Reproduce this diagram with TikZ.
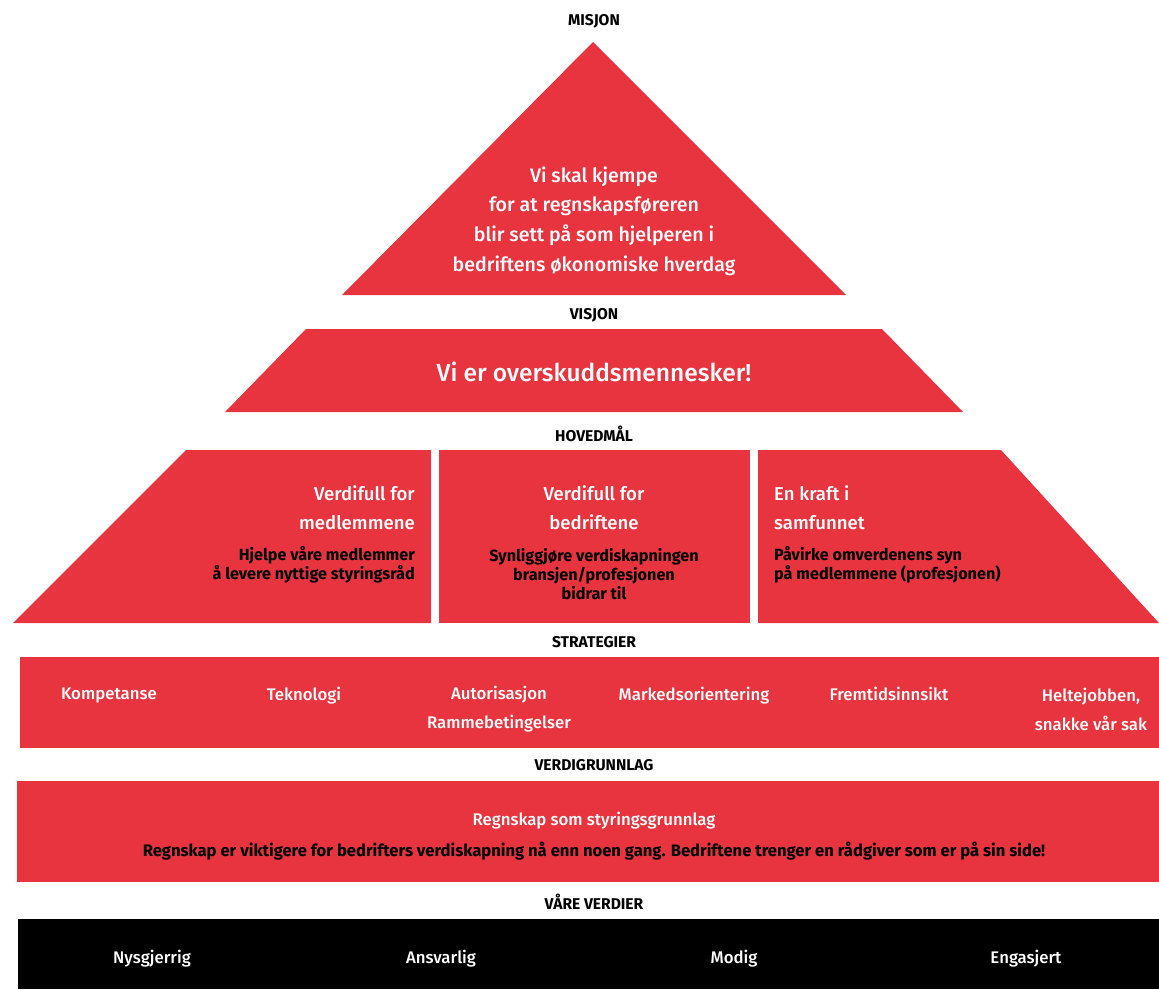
\documentclass[tikz,border=0pt]{standalone}
\usepackage{fontspec}
\setmainfont{Fira Sans}
\newfontfamily\medfont{Fira Sans Medium}
\usepackage{xcolor}
\definecolor{pyrared}{HTML}{E7343F}
\usepackage{tikz}
\usetikzlibrary{positioning}

\newcommand{\levelname}[3]{
\node (#1) [heading] at (594,#2) {#3};}
\tikzstyle{block}=[fill=pyrared, draw=none]
\tikzstyle{heading}=[inner sep=0pt, text=black, font=\bfseries\fontsize{15.6}{17}\selectfont]
\tikzstyle{whitetext}=[inner sep=0pt, text=white, font=\medfont\fontsize{17}{29}\selectfont]
\tikzstyle{goaltext}=[whitetext, font=\medfont\fontsize{18.6}{29}\selectfont]
\tikzstyle{subtext}=[inner sep=0pt, text=black, font=\bfseries\fontsize{16.2}{19}\selectfont]
\tikzstyle{strategy}=[whitetext, font=\medfont\fontsize{16.8}{29}\selectfont, align=center]

\begin{document}
\begin{tikzpicture}[x=1pt, y=-1pt]
\useasboundingbox (0,0) rectangle (1159,989);

% pyramid
\fill[block] (593,42) -- (846,295) -- (342,295) -- cycle;
\fill[block] (306,329) -- (882,329) -- (963,412) -- (225,412) -- cycle;
\fill[block] (186,450) -- (431,450) -- (431,623) -- (13,623) -- cycle;
\fill[block] (439,450) rectangle (750,623);
\fill[block] (758,450) -- (1001,450) -- (1159,623) -- (758,623) -- cycle;
\fill[block] (20,657) rectangle (1159,748);
\fill[block] (17,781) rectangle (1159,882);
\fill[black] (18,919) rectangle (1159,989);

\levelname{Misjon}{21}{MISJON}
\levelname{Visjon}{315}{VISJON}
\levelname{Hovedmaal}{434}{HOVEDMÅL}
\levelname{Strategier}{642}{STRATEGIER}
\levelname{Verdigrunnlag}{765}{VERDIGRUNNLAG}
\levelname{Verdier}{902}{VÅRE VERDIER}

\node (MisjonText) [goaltext, font=\medfont\fontsize{19.6}{29.7}\selectfont, align=center] at (594,221)
  {Vi skal kjempe\\for at regnskapsføreren\\blir sett på som hjelperen i\\bedriftens økonomiske hverdag};
\node (VisjonText) [whitetext, font=\medfont\fontsize{24.5}{28}\selectfont] at (594,372) {Vi er overskuddsmennesker!};

% hovedmaal
\node (MaalA) [goaltext, align=right, anchor=east] at (415,508) {Verdifull for\\medlemmene};
\node (MaalAsub) [subtext, align=right, anchor=east] at (415,565) {Hjelpe våre medlemmer\\å levere nyttige styringsråd};
\node (MaalB) [goaltext, align=center] at (594,508) {Verdifull for\\bedriftene};
\node (MaalBsub) [subtext, align=center] at (594,574) {Synliggjøre verdiskapningen\\bransjen/profesjonen\\bidrar til};
\node (MaalC) [goaltext, align=left, anchor=west] at (774,508) {En kraft i\\samfunnet};
\node (MaalCsub) [subtext, align=left, anchor=west] at (774,565) {Påvirke omverdenens syn\\på medlemmene (profesjonen)};

% strategier
\node (Kompetanse) [strategy] at (109,696) {Kompetanse};
\node (Teknologi) [strategy] at (304,696) {Teknologi};
\node (Autorisasjon) [strategy] at (499,709) {Autorisasjon\\Rammebetingelser};
\node (Marked) [strategy] at (694,696) {Markedsorientering};
\node (Fremtid) [strategy] at (889,694) {Fremtidsinnsikt};
\node (Heltejobben) [strategy] at (1091,709) {Heltejobben,\\snakke vår sak};

% verdigrunnlag
\node (Grunnlag) [strategy] at (594,821) {Regnskap som styringsgrunnlag};
\node (GrunnlagSub) [subtext, font=\bfseries\fontsize{16.6}{19}\selectfont] at (594,851) {Regnskap er viktigere for bedrifters verdiskapning nå enn noen gang. Bedriftene trenger en rådgiver som er på sin side!};

% verdier
\node (Nysgjerrig) [strategy] at (152,959) {Nysgjerrig};
\node (Ansvarlig) [strategy] at (441,959) {Ansvarlig};
\node (Modig) [strategy] at (734,959) {Modig};
\node (Engasjert) [strategy] at (1026,959) {Engasjert};

\end{tikzpicture}
\end{document}
